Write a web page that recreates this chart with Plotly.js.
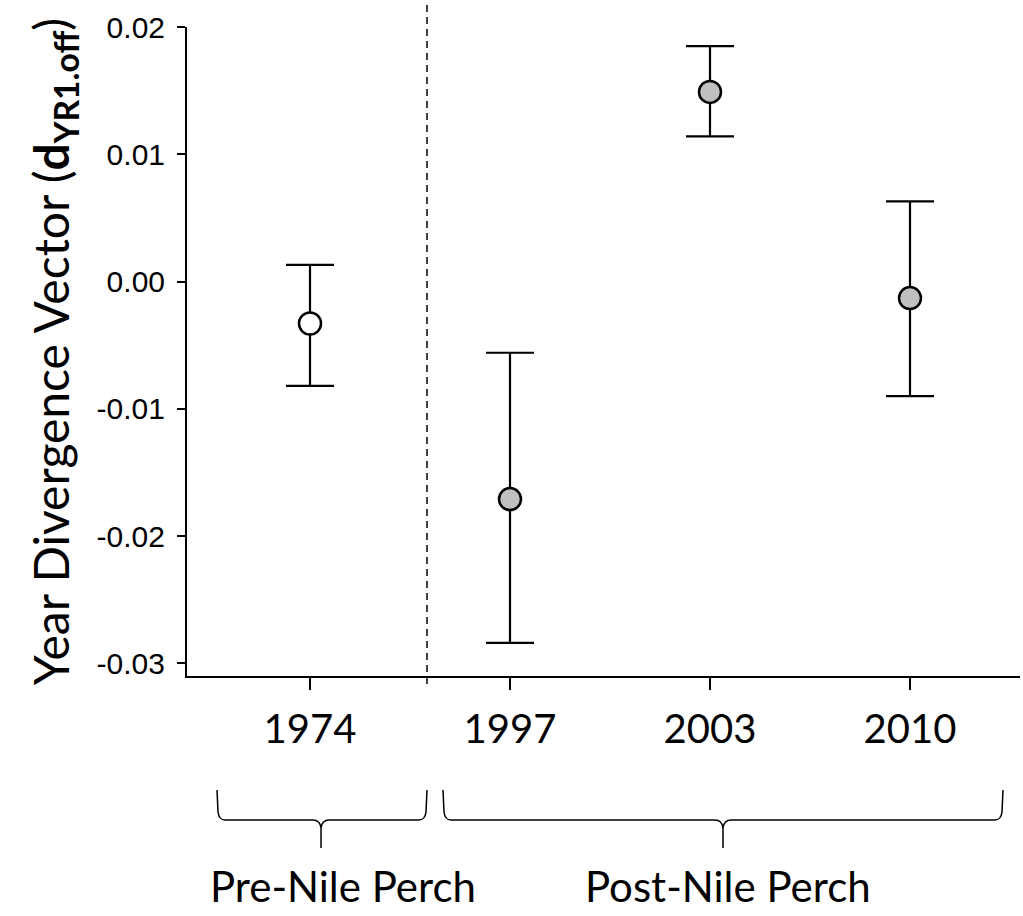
<!DOCTYPE html>
<html>
<head>
<meta charset="utf-8">
<script src="https://cdn.plot.ly/plotly-3.0.1.min.js"></script>
<style>html,body{margin:0;padding:0;background:#fff;}#chart{width:1023px;height:916px;}</style>
</head>
<body>
<div id="chart"></div>
<script>
// ---- data ----
var years = ["1974", "1997", "2003", "2010"];
var means = [-0.0033, -0.0171, 0.0149, -0.0013];
var upper = [0.0013, -0.0056, 0.0185, 0.0063];
var lower = [-0.0082, -0.0284, 0.0114, -0.0090];
var fills = ["#ffffff", "#c0c0c0", "#c0c0c0", "#c0c0c0"];
var groupLabels = ["Pre-Nile Perch", "Post-Nile Perch"];
var yTickVals = [0.02, 0.01, 0.00, -0.01, -0.02, -0.03];
var yTickText = ["0.02", "0.01", "0.00", "-0.01", "-0.02", "-0.03"];

// ---- layout geometry (pixels) ----
var W = 1023, H = 916;
var L = 187, R = 3, T = 27, B = 240;
var pw = W - L - R, ph = H - T - B;
function px(x) { return (x - L) / pw; }
function py(y) { return (H - B - y) / ph; }

var errPlus = means.map(function (m, i) { return upper[i] - m; });
var errMinus = means.map(function (m, i) { return m - lower[i]; });

var trace = {
  type: "scatter",
  mode: "markers",
  x: years,
  y: means,
  marker: { size: 22, color: fills, line: { color: "#000", width: 2.5 } },
  error_y: {
    type: "data", symmetric: false, array: errPlus, arrayminus: errMinus,
    color: "#000", thickness: 2.2, width: 24
  },
  hoverinfo: "x+y",
  showlegend: false
};

function brace(x1, x2, xm, yTop, yMid, yBot) {
  var r = 8;
  var p = "M " + px(x1) + "," + py(yTop) +
    " L " + px(x1 + 1) + "," + py(yMid - r) +
    " Q " + px(x1 + 2) + "," + py(yMid) + " " + px(x1 + r) + "," + py(yMid) +
    " L " + px(xm - r) + "," + py(yMid) +
    " Q " + px(xm - 1) + "," + py(yMid) + " " + px(xm) + "," + py(yMid + r) +
    " L " + px(xm) + "," + py(yBot) +
    " M " + px(xm) + "," + py(yMid + r) +
    " Q " + px(xm + 1) + "," + py(yMid) + " " + px(xm + r) + "," + py(yMid) +
    " L " + px(x2 - r) + "," + py(yMid) +
    " Q " + px(x2 - 2) + "," + py(yMid) + " " + px(x2 - 1) + "," + py(yMid - r) +
    " L " + px(x2) + "," + py(yTop);
  return {
    type: "path", xref: "paper", yref: "paper", path: p,
    line: { color: "#000", width: 1.5 }
  };
}

var layout = {
  width: W, height: H,
  margin: { l: L, r: R, t: T, b: B },
  paper_bgcolor: "#fff", plot_bgcolor: "#fff",
  xaxis: {
    type: "category",
    range: [-0.615, 3.55],
    showline: true, linecolor: "#000", linewidth: 2,
    ticks: "outside", ticklen: 12, tickwidth: 2, tickcolor: "#000",
    showgrid: false, zeroline: false,
    tickfont: { family: "Lato, sans-serif", size: 40, color: "#000" },
    ticklabelstandoff: 5
  },
  yaxis: {
    range: [-0.031, 0.02],
    tickvals: yTickVals, ticktext: yTickText,
    showline: true, linecolor: "#000", linewidth: 2,
    ticks: "outside", ticklen: 8, tickwidth: 2, tickcolor: "#000",
    showgrid: false, zeroline: false,
    tickfont: { family: "Liberation Sans, Arial, sans-serif", size: 30, color: "#000" },
    ticklabelstandoff: 6,
    title: {
      text: "Year Divergence Vector (<b>d<sub>YR1.off</sub></b>)",
      font: { family: "Lato, sans-serif", size: 48, color: "#000" },
      standoff: 12
    }
  },
  shapes: [
    {
      type: "line", xref: "x", yref: "paper", x0: 0.585, x1: 0.585,
      y0: py(684), y1: py(0),
      line: { color: "#000", width: 1.5, dash: "7px,5px" }
    },
    brace(217, 427, 321, 790, 820, 848),
    brace(443, 1003, 723, 790, 820, 848)
  ],
  annotations: [
    {
      xref: "paper", yref: "paper", x: px(343), y: py(886),
      text: groupLabels[0], showarrow: false, xanchor: "center", yanchor: "middle",
      font: { family: "Lato, sans-serif", size: 42, color: "#000" }
    },
    {
      xref: "paper", yref: "paper", x: px(728), y: py(886),
      text: groupLabels[1], showarrow: false, xanchor: "center", yanchor: "middle",
      font: { family: "Lato, sans-serif", size: 42, color: "#000" }
    }
  ]
};

Plotly.newPlot("chart", [trace], layout, { displayModeBar: false, staticPlot: true });
</script>
</body>
</html>
